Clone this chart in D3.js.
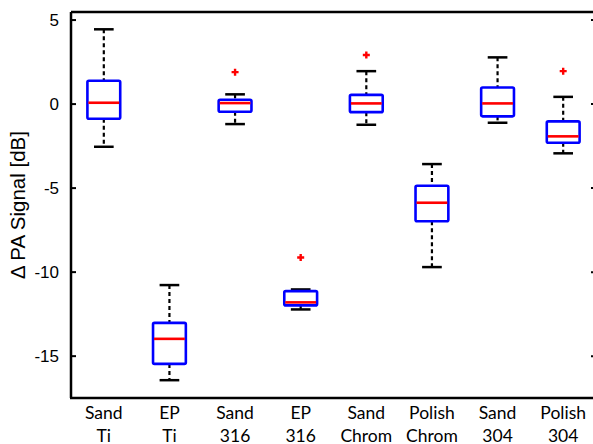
<!DOCTYPE html>
<html>
<head>
<meta charset="utf-8">
<script src="https://cdn.jsdelivr.net/npm/d3@7"></script>
<style>
  body { margin: 0; background: #fff; }
  svg { display: block; }
</style>
</head>
<body>
<div id="chart"></div>
<script>
var svgWidth = 593;
var svgHeight = 444;

// categories (two-line labels)
var groups = ["Sand Ti", "EP Ti", "Sand 316", "EP 316", "Sand Chrom", "Polish Chrom", "Sand 304", "Polish 304"];
// box statistics [dB]
var whiskerHigh = [4.42, -10.8, 0.55, -11.06, 1.93, -3.6, 2.75, 0.4];
var q3 = [1.36, -13.05, 0.23, -11.16, 0.52, -4.89, 0.96, -1.06];
var median = [0.05, -14.0, 0.03, -11.83, 0.01, -5.9, 0.01, -1.95];
var q1 = [-0.9, -15.49, -0.49, -12.01, -0.51, -7.0, -0.76, -2.33];
var whiskerLow = [-2.57, -16.46, -1.22, -12.25, -1.26, -9.73, -1.14, -2.96];
// outliers: [group index, value]
var outliers = [[2, 1.87], [3, -9.16], [4, 2.89], [7, 1.93]];
var yTicks = [-15, -10, -5, 0, 5];

var plot = { left: 71, right: 596, top: 12, bottom: 398 };

var svg = d3.select("#chart")
  .append("svg")
  .attr("width", svgWidth)
  .attr("height", svgHeight);

var x = d3.scaleLinear().domain([0.5, 8.5]).range([plot.left, plot.right]);
var y = d3.scaleLinear().domain([-17.52, 5.45]).range([plot.bottom, plot.top]);

var boxHalf = (x(1.25) - x(1)) ;
var capHalf = (x(1.15) - x(1));

// frame lines
svg.append("line")
  .attr("x1", plot.left).attr("x2", plot.right)
  .attr("y1", plot.top).attr("y2", plot.top)
  .attr("stroke", "#000").attr("stroke-width", 2.5);

// left axis, ticks pointing inward
var yAxis = svg.append("g")
  .attr("transform", `translate(${plot.left},0)`)
  .call(d3.axisLeft(y).tickValues(yTicks).tickSize(-5).tickPadding(12).tickFormat(d => String(d)));
yAxis.select(".domain").attr("stroke-width", 2.5)
  .attr("d", `M0,${plot.top}V${plot.bottom}`);
yAxis.selectAll(".tick line").attr("stroke-width", 2);
yAxis.selectAll(".tick text")
  .style("font-family", "Liberation Sans, Arial, sans-serif")
  .style("font-size", "17px")
  .attr("fill", "#000");

// right axis, ticks only
var yAxisR = svg.append("g")
  .attr("transform", `translate(${plot.right},0)`)
  .call(d3.axisRight(y).tickValues(yTicks).tickSize(-5).tickFormat(""));
yAxisR.select(".domain").attr("stroke-width", 2.5)
  .attr("d", `M0,${plot.top}V${plot.bottom}`);
yAxisR.selectAll(".tick line").attr("stroke-width", 2);

// bottom axis line
svg.append("line")
  .attr("x1", plot.left - 1).attr("x2", plot.right)
  .attr("y1", plot.bottom).attr("y2", plot.bottom)
  .attr("stroke", "#000").attr("stroke-width", 2.5);

// y label
svg.append("text")
  .attr("transform", `translate(25, ${(plot.top + plot.bottom) / 2}) rotate(-90)`)
  .attr("text-anchor", "middle")
  .style("font-family", "Liberation Sans, Arial, sans-serif")
  .style("font-size", "20.5px")
  .text("\u0394 PA Signal [dB]");

// category labels
var xlabels = svg.append("g");
groups.forEach(function(g, i) {
  var parts = g.split(" ");
  var t = xlabels.append("text")
    .attr("text-anchor", "middle")
    .style("font-family", "Lato, 'Open Sans', sans-serif")
    .style("font-size", "17.5px");
  parts.forEach(function(p, j) {
    t.append("tspan")
      .attr("x", x(i + 1))
      .attr("y", 419 + j * 23)
      .text(p);
  });
});

var boxes = svg.append("g").selectAll("g")
  .data(groups)
  .enter()
  .append("g");

// dashed whiskers
boxes.append("line")
  .attr("x1", (d, i) => x(i + 1)).attr("x2", (d, i) => x(i + 1))
  .attr("y1", (d, i) => y(whiskerHigh[i])).attr("y2", (d, i) => y(q3[i]))
  .attr("stroke", "#000").attr("stroke-width", 2.2).attr("stroke-dasharray", "4,3");
boxes.append("line")
  .attr("x1", (d, i) => x(i + 1)).attr("x2", (d, i) => x(i + 1))
  .attr("y1", (d, i) => y(q1[i])).attr("y2", (d, i) => y(whiskerLow[i]))
  .attr("stroke", "#000").attr("stroke-width", 2.2).attr("stroke-dasharray", "4,3");

// caps
boxes.append("line")
  .attr("x1", (d, i) => x(i + 1) - capHalf).attr("x2", (d, i) => x(i + 1) + capHalf)
  .attr("y1", (d, i) => y(whiskerHigh[i])).attr("y2", (d, i) => y(whiskerHigh[i]))
  .attr("stroke", "#000").attr("stroke-width", 2.5);
boxes.append("line")
  .attr("x1", (d, i) => x(i + 1) - capHalf).attr("x2", (d, i) => x(i + 1) + capHalf)
  .attr("y1", (d, i) => y(whiskerLow[i])).attr("y2", (d, i) => y(whiskerLow[i]))
  .attr("stroke", "#000").attr("stroke-width", 2.5);

// boxes
boxes.append("rect")
  .attr("x", (d, i) => x(i + 1) - boxHalf)
  .attr("width", 2 * boxHalf)
  .attr("y", (d, i) => y(q3[i]))
  .attr("height", (d, i) => y(q1[i]) - y(q3[i]))
  .attr("fill", "#fff")
  .attr("stroke", "#0000ff").attr("stroke-width", 2.6)
  .attr("stroke-linejoin", "round")
  .attr("rx", 1.5);

// medians
boxes.append("line")
  .attr("x1", (d, i) => x(i + 1) - boxHalf + 1).attr("x2", (d, i) => x(i + 1) + boxHalf - 1)
  .attr("y1", (d, i) => y(median[i])).attr("y2", (d, i) => y(median[i]))
  .attr("stroke", "#ff0000").attr("stroke-width", 2.6);

// outliers
svg.append("g").selectAll("path")
  .data(outliers)
  .enter()
  .append("path")
  .attr("transform", d => `translate(${x(d[0] + 1)},${y(d[1])})`)
  .attr("d", "M-3.5,0H3.5M0,-3.5V3.5")
  .attr("stroke", "#ff0000").attr("stroke-width", 2.4);
</script>
</body>
</html>
